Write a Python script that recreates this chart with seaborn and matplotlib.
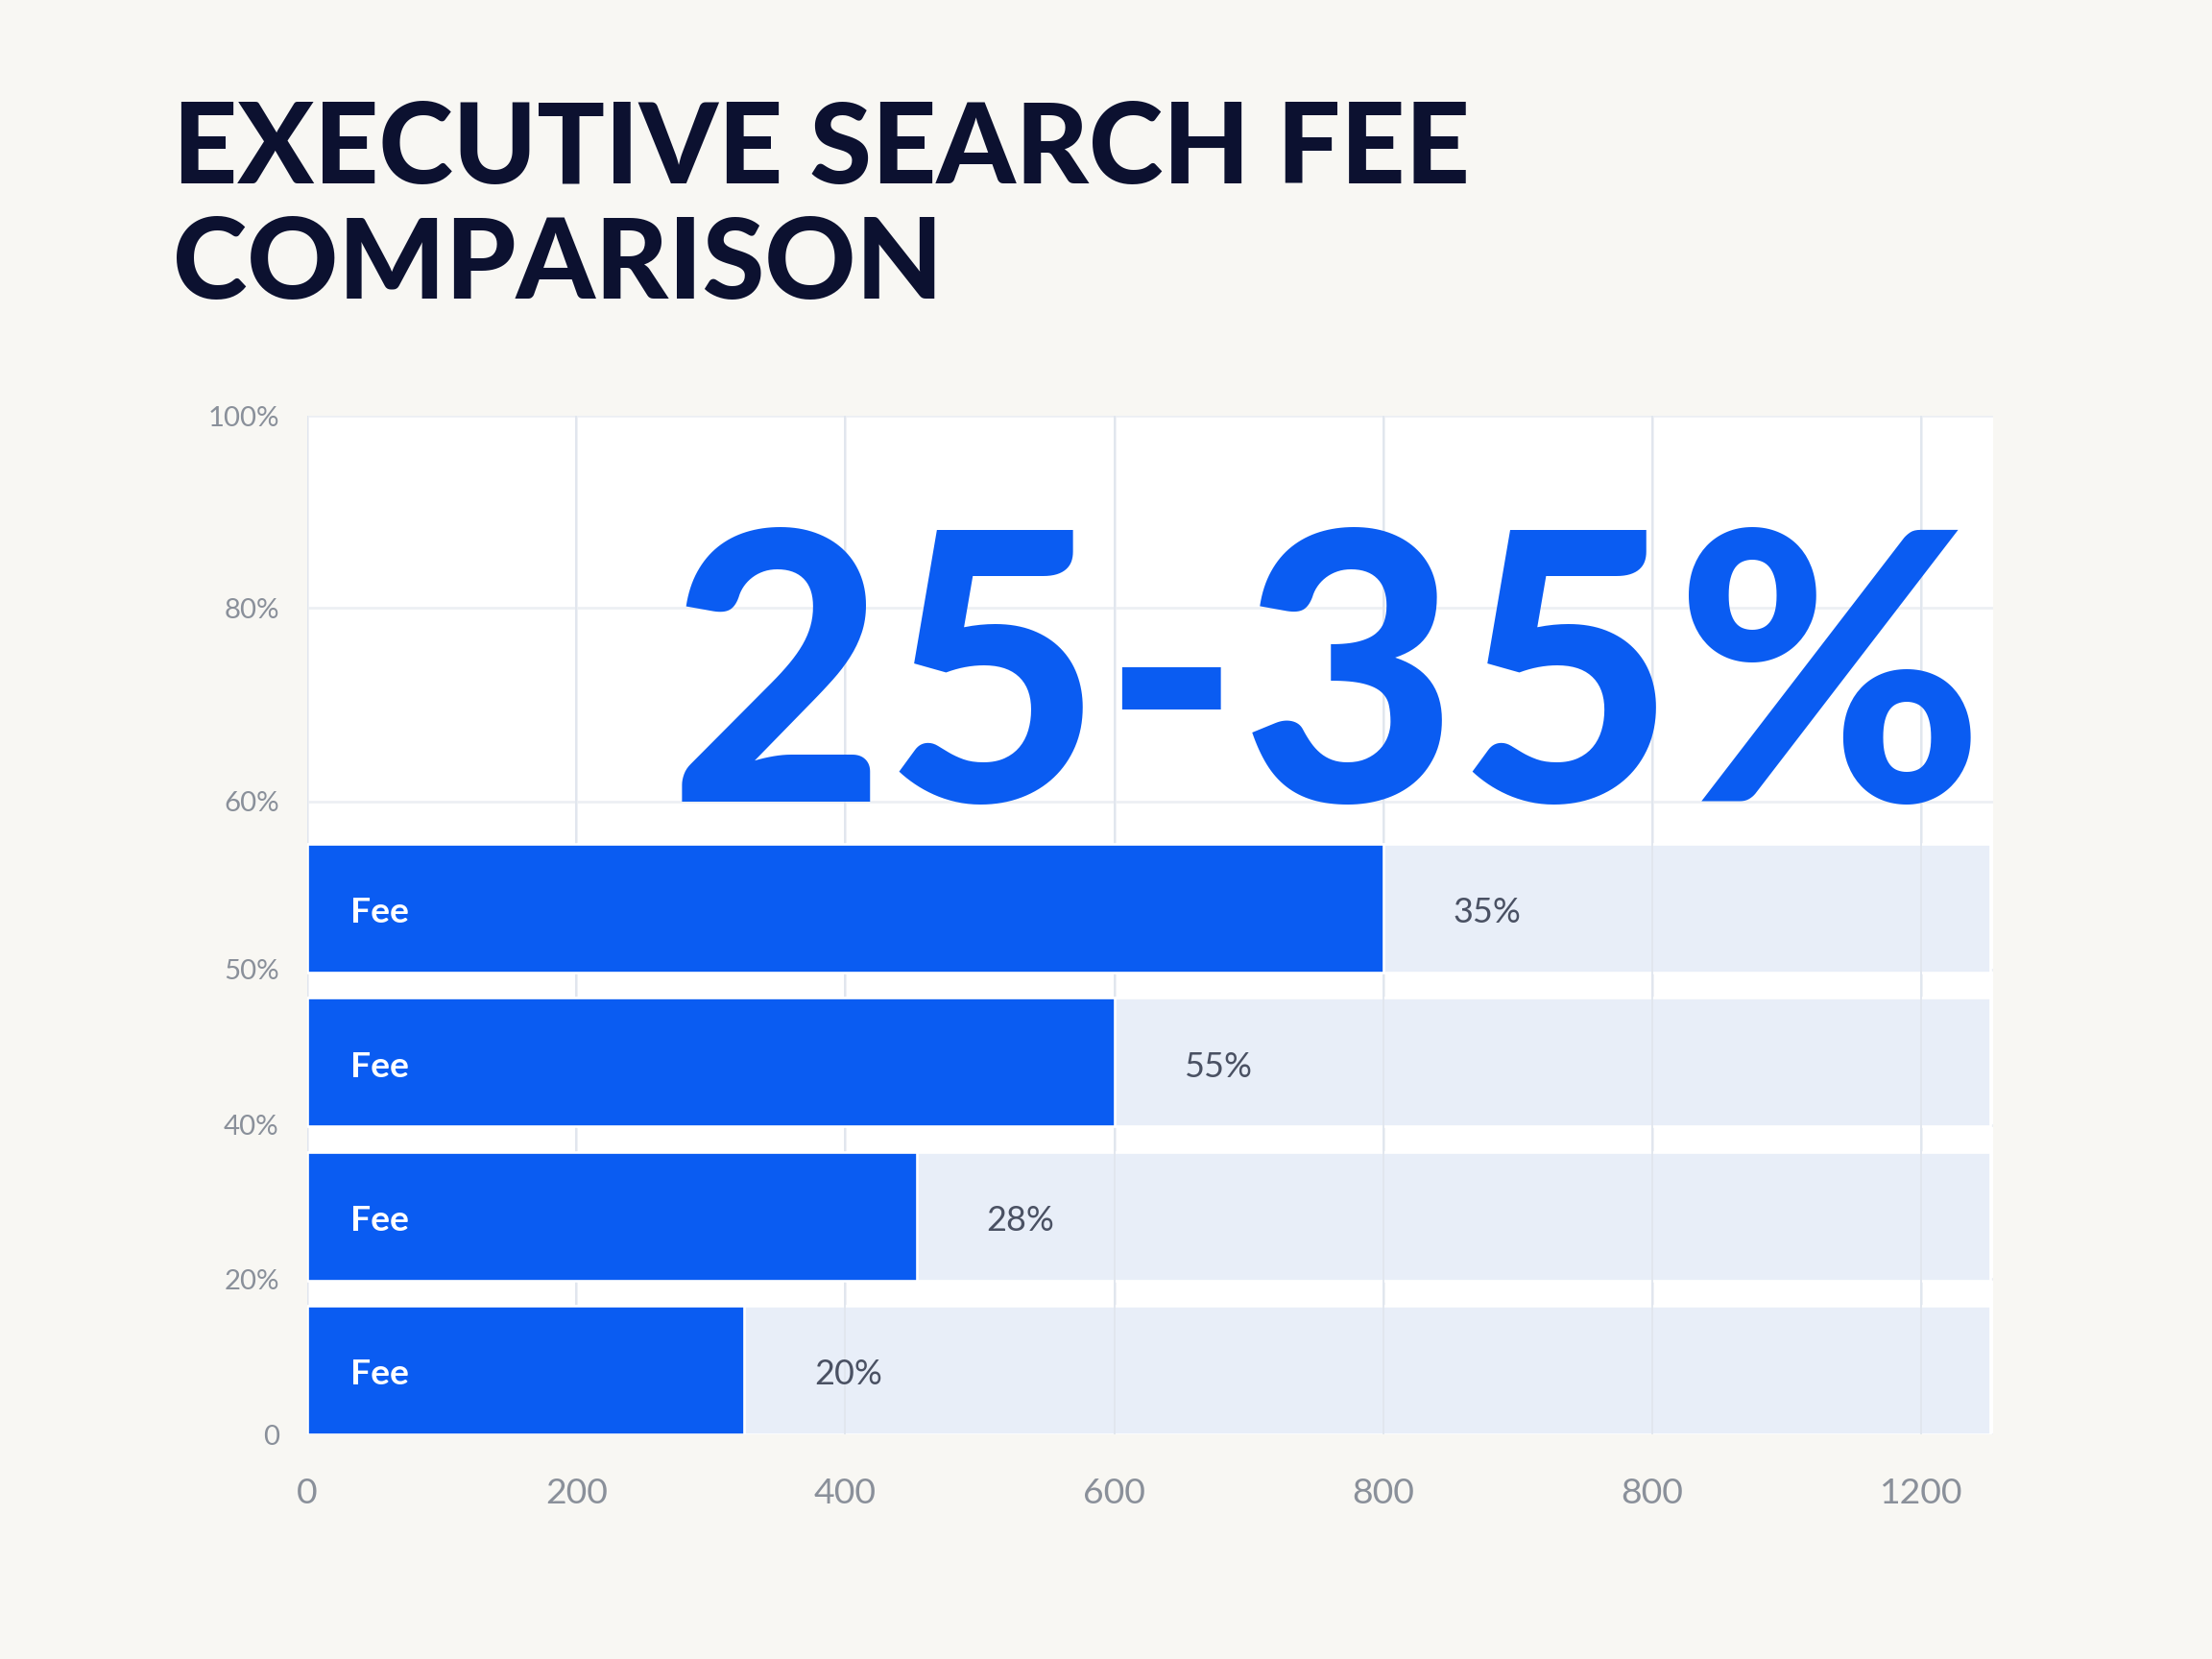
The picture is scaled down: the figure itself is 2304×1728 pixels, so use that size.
import numpy as np
import pandas as pd
import seaborn as sns
import matplotlib.pyplot as plt

# data
bar_names = ["Fee", "Fee", "Fee", "Fee"]
fee_values = [800, 600, 453, 325]
value_labels = ["35%", "55%", "28%", "20%"]
track_max = 1251

x_ticks = [0, 200, 400, 600, 800, 1000, 1200]
x_tick_labels = ["0", "200", "400", "600", "800", "800", "1200"]
# y labels sit at uneven spots in the reference (category units)
y_tick_pos = [-3.197, -1.95, -0.693, 0.399, 1.408, 2.408, 3.4175]
y_tick_labels = ["100%", "80%", "60%", "50%", "40%", "20%", "0"]

title = "EXECUTIVE SEARCH FEE\nCOMPARISON"
headline = "25-35%"

BLUE = "#0a5cf2"
TRACK = "#e8eef8"
NAVY = "#0c1130"
GRID = "#eceff3"

df = pd.DataFrame({
    "row": [f"r{i}" for i in range(len(fee_values))],
    "name": bar_names,
    "fee": fee_values,
    "track": [track_max] * len(fee_values),
})

sns.set_theme(style="white")
plt.rcParams["font.family"] = ["Lato", "DejaVu Sans"]

fig = plt.figure(figsize=(12, 9), dpi=192, facecolor="#f8f7f3")
ax = fig.add_axes([0.1389, 0.1354, 0.762, 0.614])
ax.set_facecolor("white")

# grey track behind each bar, then the blue value
sns.barplot(data=df, y="row", x="track", color=TRACK, width=0.835,
            saturation=1, ax=ax, zorder=2)
sns.barplot(data=df, y="row", x="fee", color=BLUE, width=0.835,
            saturation=1, ax=ax, zorder=3)

for i, (nm, v, lab) in enumerate(zip(bar_names, fee_values, value_labels)):
    ax.text(32, i + 0.03, nm, color="white", fontsize=14, fontweight="bold",
            va="center", ha="left", zorder=5)
    ax.text(v + 52, i + 0.03, lab, color="#4a5163", fontsize=13.5,
            va="center", ha="left", zorder=5)

ax.set_xlim(0, 1253)
ax.set_ylim(3.4175, -3.197)
ax.set_xticks(x_ticks)
ax.set_xticklabels(x_tick_labels, fontsize=14, color="#8a909a")
ax.set_yticks(y_tick_pos)
ax.set_yticklabels(y_tick_labels, fontsize=11, color="#8a909a")
ax.tick_params(axis="both", length=0)
ax.tick_params(axis="x", pad=17)
ax.tick_params(axis="y", pad=11)
ax.set_xlabel("")
ax.set_ylabel("")

ax.grid(True, color=GRID, linewidth=1.0, zorder=0)
ax.set_axisbelow(True)
for s in ax.spines.values():
    s.set_visible(False)

# gridlines show faintly across the grey tracks
for xv in x_ticks:
    ax.axvline(xv, color="#e1e6ee", linewidth=0.7, zorder=2.5)

ax.text(758, -0.693, headline, color=BLUE, fontsize=146, fontweight="black",
        ha="center", va="baseline", zorder=6)

fig.text(0.078, 0.94, title, color=NAVY, fontsize=44, fontweight="black",
         ha="left", va="top", linespacing=1.17)

fig.savefig("out.png", dpi=192, facecolor=fig.get_facecolor())
